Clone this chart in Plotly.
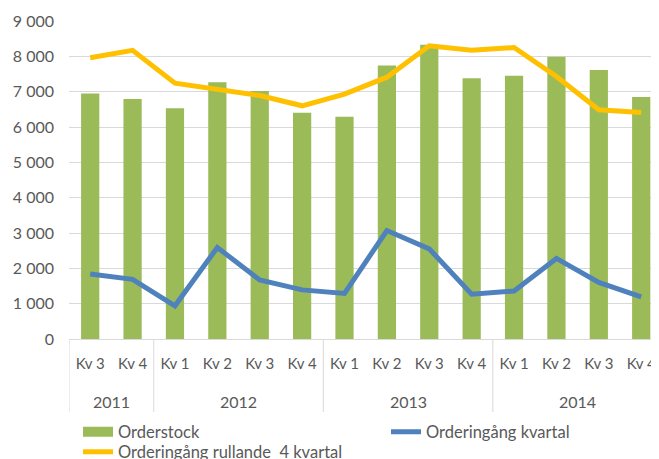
import plotly.graph_objects as go

years = ["2011", "2011", "2012", "2012", "2012", "2012", "2013", "2013", "2013", "2013", "2014", "2014", "2014", "2014"]
quarters = ["Kv 3", "Kv 4", "Kv 1", "Kv 2", "Kv 3", "Kv 4", "Kv 1", "Kv 2", "Kv 3", "Kv 4", "Kv 1", "Kv 2", "Kv 3", "Kv 4"]
orderstock = [6950, 6790, 6530, 7270, 7020, 6400, 6290, 7740, 8330, 7380, 7450, 7990, 7610, 6850]
order_kvartal = [1840, 1690, 940, 2590, 1670, 1390, 1290, 3070, 2550, 1270, 1360, 2280, 1600, 1190]
order_rullande = [7960, 8170, 7240, 7070, 6890, 6600, 6930, 7410, 8300, 8170, 8250, 7430, 6490, 6410]
y_ticks = [0, 1000, 2000, 3000, 4000, 5000, 6000, 7000, 8000, 9000]
y_tick_labels = ["0", "1 000", "2 000", "3 000", "4 000", "5 000", "6 000", "7 000", "8 000", "9 000"]

xs = list(range(len(quarters)))
font = "Lato, 'Open Sans', sans-serif"
txt_color = "#595959"
grid_color = "#D9D9D9"
# the page body has an 8px margin; the figure is offset accordingly and
# made a little taller than the window so the bottom legend row fits in it
W, H = 651, 471
L, T, B = 61, 13, 140
plot_w = W - L
plot_h = H - T - B
axis_px = H - B


def py(p):
    """figure pixel row -> paper y"""
    return (axis_px - p) / plot_h


def px(p):
    """figure pixel column -> paper x"""
    return (p - L) / plot_w


fig = go.Figure()
fig.add_trace(go.Bar(x=xs, y=orderstock, name="Orderstock", marker_color="#9BBB59",
                     marker_line_width=0, showlegend=False))
# legend entry for the bars, drawn as a wide swatch like the original
fig.add_trace(go.Scatter(x=[None], y=[None], name="Orderstock", mode="lines",
                         line=dict(color="#9BBB59", width=11), legend="legend"))
fig.add_trace(go.Scatter(x=xs, y=order_kvartal, name="Orderingång kvartal", mode="lines",
                         line=dict(color="#4F81BD", width=5), legend="legend2"))
fig.add_trace(go.Scatter(x=xs, y=order_rullande, name="Orderingång rullande  4 kvartal", mode="lines",
                         line=dict(color="#FFC000", width=5), legend="legend3"))

# year groups: label at group centre, divider at group start
groups = []
for i, yr in enumerate(years):
    if not groups or groups[-1][0] != yr:
        groups.append([yr, i, i])
    else:
        groups[-1][2] = i

annotations = []
shapes = []
for yr, i0, i1 in groups:
    annotations.append(dict(x=(i0 + i1) / 2, y=py(axis_px + 62), xref="x", yref="paper",
                            text=yr, showarrow=False, yanchor="middle",
                            font=dict(family=font, size=16, color=txt_color)))
    shapes.append(dict(type="line", xref="x", yref="paper", x0=i0 - 0.5, x1=i0 - 0.5,
                       y0=0, y1=py(axis_px + 73), line=dict(color=grid_color, width=1)))

legend_font = dict(family=font, size=16.5, color=txt_color)
common = dict(orientation="v", font=legend_font, bgcolor="rgba(0,0,0,0)",
              xanchor="left", yanchor="middle")
row1, row2 = 424, 444
fig.update_layout(
    width=W, height=H,
    margin=dict(l=L, r=0, t=T, b=B),
    paper_bgcolor="white", plot_bgcolor="white",
    bargap=0.57,
    font=dict(family=font, size=16, color=txt_color),
    showlegend=True,
    legend=dict(x=px(70), y=py(row1), **common),
    legend2=dict(x=px(378), y=py(row1), **common),
    legend3=dict(x=px(70), y=py(row2), **common),
    annotations=annotations,
    shapes=shapes,
)
fig.update_yaxes(range=[0, 9000], tickvals=y_ticks, ticktext=y_tick_labels,
                 showgrid=True, gridcolor=grid_color, gridwidth=1, zeroline=False,
                 showline=False, ticks="", ticklabelstandoff=14, automargin=False,
                 tickfont=dict(family=font, size=16, color=txt_color))
fig.update_xaxes(range=[-0.5, 13.42], tickvals=xs, ticktext=quarters,
                 showline=True, linecolor=grid_color, linewidth=1,
                 ticks="", ticklabelstandoff=11, automargin=False, showgrid=False,
                 tickfont=dict(family=font, size=15, color=txt_color))

fig.write_html("out.html")
